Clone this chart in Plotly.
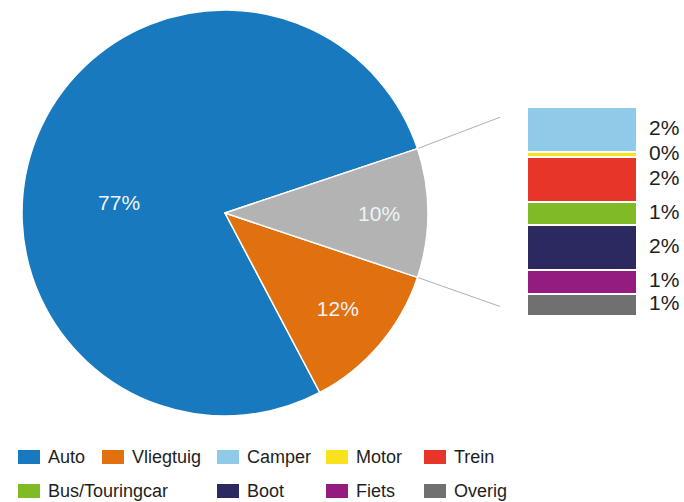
import math
import plotly.graph_objects as go

# ---- data ----
pie_labels = ["Auto", "Vliegtuig"]
pie_values = [77.4, 12.1]
pie_colors = ["#1879bf", "#e1700f"]
group_color = "#b3b3b3"

bar_labels = ["Camper", "Motor", "Trein", "Bus/Touringcar", "Boot", "Fiets", "Overig"]
bar_values = [2.2, 0.25, 2.2, 1.15, 2.2, 1.15, 1.1]
bar_colors = ["#8fcae8", "#f9e11e", "#e8352a", "#80bb27", "#2b2960", "#941c80", "#707070"]

W, H = 684, 502
FONT = "Liberation Sans"

def px(x):
    return x / W

def py(y):
    return 1 - y / H

group_total = sum(bar_values)
all_values = pie_values + [group_total]
total = sum(all_values)
grey_frac = group_total / total
plane_frac = pie_values[1] / total

fig = go.Figure()

# pie
pie_x0, pie_x1, pie_y0, pie_y1 = 22, 428, 10, 416
NB = "\u00a0"
fig.add_trace(go.Pie(
    labels=pie_labels + ["Overig (totaal)"],
    values=all_values,
    marker=dict(colors=pie_colors + [group_color], line=dict(color="white", width=1.5)),
    sort=False,
    direction="counterclockwise",
    rotation=90 + grey_frac * 180 + plane_frac * 360,
    texttemplate=[NB + "<br>" + NB + "<br>%{value:.0f}%" + NB * 4, "%{value:.0f}%", "%{value:.0f}%"],
    textposition="inside",
    insidetextorientation="horizontal",
    insidetextfont=dict(color="#eef3f8", size=21, family=FONT),
    domain=dict(x=[px(pie_x0), px(pie_x1)], y=[py(pie_y1), py(pie_y0)]),
    showlegend=False,
    hoverinfo="label+value",
))

# stacked bar (x axis extends to the right edge so labels sit inside its range)
bar_x0, bar_x1, bar_y0, bar_y1 = 527, 637, 107, 316
bar_px = bar_x1 - bar_x0
x_right = -0.5 + (W - bar_x0) / bar_px
for lab, val, col in zip(bar_labels, bar_values, bar_colors):
    fig.add_trace(go.Bar(
        x=[0], y=[val], name=lab, width=1,
        marker=dict(color=col, line=dict(color="white", width=2)),
        showlegend=False, hoverinfo="name+y",
    ))

mids = []
acc = 0
for v in bar_values:
    mids.append(acc + v / 2)
    acc += v
fig.add_trace(go.Scatter(
    x=[0.5 + 12 / bar_px] * len(bar_values), y=mids,
    text=[f"{v:.0f}%" for v in bar_values],
    mode="text", textposition="middle right",
    textfont=dict(size=21, family=FONT, color="#1e1e1e"),
    cliponaxis=False, showlegend=False, hoverinfo="skip",
))

fig.update_layout(
    barmode="stack",
    width=W, height=H,
    margin=dict(l=0, r=0, t=0, b=0),
    paper_bgcolor="white", plot_bgcolor="white",
    font=dict(family=FONT, size=18, color="#1e1e1e"),
    xaxis=dict(domain=[px(bar_x0), 1], range=[-0.5, x_right], visible=False, fixedrange=True),
    yaxis=dict(domain=[py(bar_y1), py(bar_y0)], range=[group_total, 0], visible=False, fixedrange=True),
    showlegend=False,
)

# connector lines from grey slice edges toward the bar
cx, cy = (pie_x0 + pie_x1) / 2, (pie_y0 + pie_y1) / 2
R = (pie_x1 - pie_x0) / 2
half = grey_frac * math.pi
end_x = 500
for sign, (bx, by) in [(-1, (bar_x0, bar_y0)), (1, (bar_x0, bar_y1))]:
    sx = cx + R * math.cos(half)
    sy = cy + sign * R * math.sin(half)
    t = (end_x - sx) / (bx - sx)
    ex, ey = end_x, sy + t * (by - sy)
    fig.add_shape(type="line", xref="paper", yref="paper",
                  x0=px(sx), y0=py(sy), x1=px(ex), y1=py(ey),
                  line=dict(color="#b0b0b0", width=1), layer="below")

# legend
legend_names = pie_labels + bar_labels
legend_colors = pie_colors + bar_colors
col_x = [18, 102, 217, 326, 424]
slots = [(0, 0), (0, 1), (0, 2), (0, 3), (0, 4), (1, 0), (1, 2), (1, 3), (1, 4)]
row_y = [457, 491]
for name, col, (r, c) in zip(legend_names, legend_colors, slots):
    x0 = col_x[c]
    yc = row_y[r]
    fig.add_shape(type="rect", xref="paper", yref="paper",
                  x0=px(x0), x1=px(x0 + 22), y0=py(yc + 7), y1=py(yc - 7),
                  fillcolor=col, line=dict(width=0))
    fig.add_annotation(xref="paper", yref="paper", x=px(x0 + 28), y=py(yc),
                       text=name, showarrow=False, xanchor="left", yanchor="middle",
                       font=dict(size=18, family=FONT, color="#1e1e1e"))

fig.write_html("out.html", config={"displayModeBar": False},
               post_script="document.body.style.margin='0';document.body.style.overflow='hidden';")
